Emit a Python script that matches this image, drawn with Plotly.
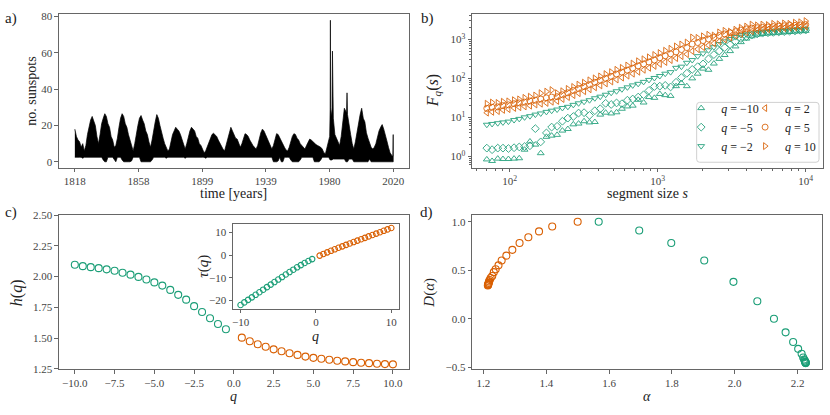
import plotly.graph_objects as go

TEAL = "#1b9e77"
ORANGE = "#d95f02"
FONT = "Liberation Serif, Times New Roman, DejaVu Serif, serif"
W, H = 830, 415

# ---------------- panel a: sunspot band (upper / lower envelope) ----------------
years_hi = list(range(1818, 1980)) + [1979.7, 1980.0, 1980.15, 1980.3, 1980.8, 1981.2, 1981.45, 1981.7,
                                      1982, 1983, 1984, 1985, 1986, 1987, 1988, 1989,
                                      1990.4, 1990.7, 1991.0] + list(range(1992, 2020)) + [2019.8, 2020]
spots_hi = [18, 14,
            12, 11, 8, 10, 6, 9, 15, 19, 23, 25,
            22, 20, 14, 10, 15, 21, 24, 26.5, 25, 21,
            19, 14, 12, 8, 9, 13, 19, 24, 26.5, 25,
            21, 19, 15, 12, 9, 6, 10, 16, 20, 24,
            25.5, 23, 21, 17, 15, 11, 8, 12, 18, 22,
            26, 24, 20, 16, 13, 10, 8, 6, 7, 11,
            15, 17, 19, 18, 17, 15, 12, 9, 7, 10,
            14, 17, 19, 18, 17, 14, 13, 10, 9, 7,
            5, 6, 8, 11, 13, 15, 15.7, 15, 14, 12,
            10, 8, 7, 6, 9, 13, 16, 19, 17, 15,
            13, 12.5, 10, 8, 10, 13, 15.5, 15, 14, 12,
            10, 9, 8, 7, 9, 13, 16, 18, 17, 15,
            13, 10, 8, 7, 9, 13, 15.5, 15, 13, 11,
            9, 8, 6.5, 6, 8, 11, 14, 15.5, 15, 13,
            12, 10, 9, 8, 7, 9, 11, 12.5, 12, 11,
            10, 9.5, 9, 8.5, 8, 7, 5, 4.5, 8, 12,
            14, 29, 78, 30, 25, 29, 61, 27,
            24, 15, 13, 11, 9, 14, 22, 29.5,
            27, 38, 26,
            19, 15, 10, 7, 11, 16, 22, 26, 29.5, 24,
            22, 16, 13, 10, 8, 7, 8, 10, 14, 17,
            19, 20.5, 18, 14, 11.5, 8, 5, 3.6,
            3, 15]
years_lo = list(range(1818, 2021))
spots_lo = [2.5, 2.5, 2.5, 2.5, 2.5, 2.0, 2.5, 2.5, 2.5, 2.5, 2.5, 2.5,
            2.5, 2.5, 2.5, 2.5, 2.5, 2.5, 1.0, 0.0, 0.0, 2.5,
            2.5, 2.5, 2.5, 1.0, 0.0, 2.5, 2.5, 2.5, 1.0, 0.0,
            0.0, 0.0, 0.0, 0.0, 0.5, 2.5, 2.5, 2.5, 2.5, 2.5,
            0.0, 0.0, 0.0, 0.0, 0.0, 0.0, 0.0, 1.0, 2.5, 2.5,
            2.5, 2.5, 2.5, 2.5, 2.5, 2.5, 2.0, 2.5, 2.5, 2.5,
            2.5, 2.5, 2.5, 2.5, 2.5, 2.5, 2.5, 2.5, 2.0, 2.5,
            2.5, 2.5, 2.5, 2.5, 2.5, 2.5, 2.5, 2.5, 2.5, 2.5,
            2.5, 2.0, 2.5, 2.5, 2.5, 2.5, 2.5, 2.5, 2.5, 2.5,
            2.5, 2.5, 2.5, 2.5, 2.5, 2.5, 2.5, 2.5, 2.5, 2.5,
            2.5, 2.5, 2.5, 2.5, 2.5, 2.5, 2.5, 2.5, 2.5, 2.5,
            2.5, 2.5, 2.5, 2.5, 2.5, 2.5, 2.5, 2.5, 2.5, 2.5,
            2.5, 2.5, 2.5, 2.5, 0.0, 0.0, 0.0, 0.5, 2.5, 0.0,
            0.0, 2.5, 2.5, 2.5, 2.5, 1.0, 0.0, 0.0, 0.0, 0.0,
            0.0, 1.0, 2.5, 2.5, 2.5, 2.5, 2.5, 2.5, 2.5, 2.5,
            0.0, 0.0, 0.0, 0.0, 1.0, 2.5, 2.5, 2.5, 2.5, 2.5,
            1.0, 1.0, 1.5, 1.5, 1.5, 1.5, 1.5, 1.5, 1.5, 1.5,
            0.0, 0.0, 1.5, 1.5, 1.5, 0.0, 0.0, 0.0, 0.0, 0.0,
            0.0, 0.0, 0.0, 0.0, 0.0, 1.5, 0.0, 0.0, 0.0, 0.0,
            0.0, 0.0, 0.0, 0.0, 0.0, 0.0, 0.0, 0.0, 0.0, 0.0, 0.0]
year_tickvals = [1818, 1858.4, 1898.8, 1939.2, 1979.6, 2020]
year_ticktext = ["1818", "1858", "1899", "1939", "1980", "2020"]

# ---------------- panel b: fluctuation functions ----------------
seg_sizes = [70, 76, 83, 90, 98, 107, 116, 126, 137,
             149, 162, 177, 192, 209, 227, 247, 269, 292, 318,
             346, 376, 409, 445, 485, 527, 573, 624, 678, 738,
             803, 873, 950, 1033, 1124, 1222, 1330, 1446, 1573, 1711,
             1862, 2025, 2203, 2396, 2606, 2835, 3084, 3355, 3649, 3970,
             4318, 4697, 5110, 5558, 6046, 6577, 7154, 7782, 8466, 9209,
             10000]
logF_qm10 = [-0.08, -0.12, -0.06, -0.07, -0.07, -0.06, -0.05, 0.17, 0.38, 0.30,
             0.08, 0.50, 0.53, 0.55, 0.66, 0.70, 0.82, 0.84, 0.90, 0.87,
             0.88, 1.07, 1.12, 1.10, 1.13, 1.22, 1.28, 1.30, 1.45, 1.38,
             1.52, 1.50, 1.60, 1.57, 1.55, 1.80, 1.88, 1.80, 2.00, 2.12,
             2.25, 2.22, 2.38, 2.50, 2.60, 2.70, 2.82, 2.93, 3.02, 3.08,
             3.12, 3.14, 3.15, 3.16, 3.17, 3.18, 3.19, 3.20, 3.21, 3.22]
logF_qm5 = [0.21, 0.17, 0.21, 0.21, 0.20, 0.22, 0.24, 0.25, 0.27, 0.71,
            0.37, 0.60, 0.75, 0.77, 0.90, 0.98, 1.02, 1.11, 1.12, 1.05,
            1.17, 1.22, 1.36, 1.33, 1.37, 1.35, 1.44, 1.47, 1.52, 1.58,
            1.69, 1.79, 1.80, 1.82, 1.78, 1.90, 2.02, 2.13, 2.23, 2.30,
            2.37, 2.50, 2.61, 2.70, 2.79, 2.87, 2.94, 3.02, 3.07, 3.11,
            3.14, 3.16, 3.17, 3.18, 3.19, 3.20, 3.21, 3.22, 3.23, 3.24]
logF_qm2 = [0.81, 0.83, 0.85, 0.87, 0.89, 0.93, 0.96, 1.00, 1.03, 1.07,
            1.10, 1.14, 1.17, 1.20, 1.24, 1.27, 1.32, 1.36, 1.40, 1.44,
            1.49, 1.53, 1.58, 1.63, 1.67, 1.72, 1.77, 1.82, 1.86, 1.91,
            1.96, 2.01, 2.06, 2.12, 2.16, 2.27, 2.30, 2.40, 2.47, 2.57,
            2.64, 2.72, 2.80, 2.88, 2.95, 3.01, 3.06, 3.11, 3.13, 3.15,
            3.17, 3.18, 3.19, 3.20, 3.21, 3.22, 3.23, 3.24, 3.25, 3.26]
logF_q2 = [1.12, 1.14, 1.16, 1.19, 1.21, 1.24, 1.26, 1.28, 1.30, 1.33,
           1.35, 1.37, 1.40, 1.42, 1.47, 1.52, 1.57, 1.62, 1.67, 1.72,
           1.77, 1.82, 1.87, 1.92, 1.97, 2.02, 2.07, 2.12, 2.17, 2.22,
           2.27, 2.32, 2.37, 2.42, 2.47, 2.52, 2.57, 2.62, 2.70, 2.75,
           2.80, 2.85, 2.90, 2.95, 3.00, 3.05, 3.10, 3.14, 3.18, 3.21,
           3.23, 3.25, 3.26, 3.27, 3.28, 3.29, 3.30, 3.31, 3.32, 3.33]
logF_q5 = [1.23, 1.26, 1.27, 1.30, 1.32, 1.35, 1.37, 1.39, 1.42, 1.44,
           1.47, 1.50, 1.52, 1.53, 1.58, 1.63, 1.69, 1.74, 1.79, 1.84,
           1.90, 1.95, 2.00, 2.05, 2.11, 2.16, 2.21, 2.26, 2.32, 2.37,
           2.42, 2.47, 2.53, 2.58, 2.63, 2.68, 2.74, 2.79, 2.88, 2.92,
           2.97, 3.01, 3.05, 3.10, 3.14, 3.17, 3.20, 3.24, 3.27, 3.29,
           3.30, 3.31, 3.32, 3.33, 3.34, 3.35, 3.36, 3.36, 3.37, 3.38]
logF_q10 = [1.35, 1.38, 1.37, 1.40, 1.41, 1.44, 1.46, 1.50, 1.53, 1.56,
            1.62, 1.66, 1.70, 1.62, 1.67, 1.73, 1.78, 1.84, 1.89, 1.95,
            2.00, 2.05, 2.11, 2.16, 2.22, 2.27, 2.33, 2.38, 2.44, 2.49,
            2.54, 2.60, 2.65, 2.71, 2.76, 2.82, 2.87, 2.92, 3.05, 3.04,
            3.08, 3.12, 3.10, 3.18, 3.22, 3.20, 3.25, 3.30, 3.33, 3.38,
            3.36, 3.38, 3.37, 3.40, 3.39, 3.41, 3.40, 3.43, 3.44, 3.47]

# ---------------- panel c: h(q) and inset tau(q) ----------------
q_neg = [-10, -9.5, -9, -8.5, -8, -7.5, -7, -6.5, -6, -5.5,
         -5, -4.5, -4, -3.5, -3, -2.5, -2, -1.5, -1, -0.5]
q_pos = [0.5, 1, 1.5, 2, 2.5, 3, 3.5, 4, 4.5, 5,
         5.5, 6, 6.5, 7, 7.5, 8, 8.5, 9, 9.5, 10]
h_neg = [2.096, 2.085, 2.077, 2.069, 2.059, 2.048, 2.032, 2.016, 1.998, 1.977,
         1.953, 1.927, 1.892, 1.852, 1.813, 1.760, 1.712, 1.662, 1.615, 1.572]
h_pos = [1.504, 1.475, 1.451, 1.430, 1.409, 1.393, 1.377, 1.364, 1.350, 1.340,
         1.332, 1.324, 1.316, 1.311, 1.305, 1.300, 1.297, 1.292, 1.289, 1.287]
tau_neg = [-21.96, -20.81, -19.69, -18.59, -17.47, -16.36, -15.22, -14.10, -12.99, -11.87,
           -10.77, -9.67, -8.57, -7.48, -6.44, -5.40, -4.42, -3.49, -2.62, -1.79]
tau_pos = [-0.25, 0.48, 1.18, 1.86, 2.52, 3.18, 3.82, 4.46, 5.08, 5.70,
           6.33, 6.94, 7.55, 8.18, 8.79, 9.40, 10.02, 10.63, 11.25, 11.87]

# ---------------- panel d: singularity spectrum ----------------
alpha_pos = [1.500, 1.419, 1.377, 1.343, 1.315, 1.292, 1.273, 1.258, 1.248, 1.239,
             1.233, 1.228, 1.223, 1.220, 1.218, 1.217, 1.216, 1.215, 1.215, 1.214]
D_pos = [1.00, 0.95, 0.90, 0.84, 0.78, 0.71, 0.65, 0.60, 0.55, 0.51,
         0.48, 0.44, 0.42, 0.40, 0.385, 0.37, 0.36, 0.355, 0.348, 0.343]
alpha_neg = [1.567, 1.696, 1.798, 1.903, 1.996, 2.072, 2.125, 2.162, 2.186, 2.202,
             2.213, 2.218, 2.221, 2.223, 2.224, 2.225, 2.225, 2.226, 2.226, 2.226]
D_neg = [1.00, 0.91, 0.78, 0.60, 0.38, 0.18, 0.00, -0.14, -0.24, -0.31,
         -0.36, -0.40, -0.42, -0.43, -0.44, -0.445, -0.45, -0.452, -0.455, -0.457]


def PX(p):
    return p / W


def PY(p):
    return 1 - p / H


fig = go.Figure()

# panel a
fig.add_trace(go.Scatter(x=years_hi + years_lo[::-1], y=spots_hi + spots_lo[::-1],
                         mode="lines", fill="toself", fillcolor="black",
                         line=dict(color="black", width=0.7),
                         xaxis="x", yaxis="y", showlegend=False, hoverinfo="skip"))

# panel b
series_b = [
    (logF_qm10, "triangle-up-open", TEAL, "<i>q</i> = −10", "legend"),
    (logF_qm5, "diamond-open", TEAL, "<i>q</i> = −5", "legend"),
    (logF_qm2, "triangle-down-open", TEAL, "<i>q</i> = −2", "legend"),
    (logF_q2, "triangle-left-open", ORANGE, "<i>q</i> = 2", "legend2"),
    (logF_q5, "circle-open", ORANGE, "<i>q</i> = 5", "legend2"),
    (logF_q10, "triangle-right-open", ORANGE, "<i>q</i> = 10", "legend2"),
]
for vals, sym, col, name, leg in series_b:
    fig.add_trace(go.Scatter(x=seg_sizes, y=[10 ** v for v in vals], mode="markers",
                             marker=dict(symbol=sym, size=6, color=col, line=dict(width=1, color=col)),
                             opacity=0.85, name=name, legend=leg, xaxis="x2", yaxis="y2"))


def circ(col, size):
    return dict(symbol="circle-open", size=size, color=col, line=dict(width=1.1, color=col))


# panel c
fig.add_trace(go.Scatter(x=q_neg, y=h_neg, mode="markers", marker=circ(TEAL, 7),
                         xaxis="x3", yaxis="y3", showlegend=False))
fig.add_trace(go.Scatter(x=q_pos, y=h_pos, mode="markers", marker=circ(ORANGE, 7),
                         xaxis="x3", yaxis="y3", showlegend=False))
# inset
fig.add_trace(go.Scatter(x=q_neg, y=tau_neg, mode="markers", marker=circ(TEAL, 5.5),
                         xaxis="x5", yaxis="y5", showlegend=False))
fig.add_trace(go.Scatter(x=q_pos, y=tau_pos, mode="markers", marker=circ(ORANGE, 5.5),
                         xaxis="x5", yaxis="y5", showlegend=False))
# panel d
fig.add_trace(go.Scatter(x=alpha_pos, y=D_pos, mode="markers", marker=circ(ORANGE, 7),
                         xaxis="x4", yaxis="y4", showlegend=False))
fig.add_trace(go.Scatter(x=alpha_neg, y=D_neg, mode="markers", marker=circ(TEAL, 7),
                         xaxis="x4", yaxis="y4", showlegend=False))

AX = dict(showline=True, linecolor="#666", linewidth=1, mirror=True, ticks="outside",
          ticklen=3.5, tickwidth=0.8, tickcolor="#666", showgrid=False, zeroline=False,
          tickfont=dict(family=FONT, size=11, color="#444"))


def ax(**kw):
    d = dict(AX)
    d.update(kw)
    return d


xa_dom = [PX(58), PX(408.3)]
xb_dom = [PX(471.7), PX(823.3)]
xd_dom = [PX(471.7), PX(821.7)]
ytop_dom = [PY(166), PY(8.3)]
ybot_dom = [PY(373.3), PY(214.3)]

minor_x = [60, 70, 80, 90, 200, 300, 400, 500, 600, 700, 800, 900,
           2000, 3000, 4000, 5000, 6000, 7000, 8000, 9000]
minor_y = [0.6, 0.7, 0.8, 0.9, 2, 3, 4, 5, 6, 7, 8, 9, 20, 30, 40, 50, 60, 70, 80, 90,
           200, 300, 400, 500, 600, 700, 800, 900, 2000, 3000, 4000]

LEGFONT = dict(family=FONT, size=12, color="#222")
fig.update_layout(
    width=W, height=H, margin=dict(l=0, r=0, t=0, b=0),
    paper_bgcolor="white", plot_bgcolor="white",
    font=dict(family=FONT, color="#222"),
    xaxis=ax(domain=xa_dom, anchor="y", range=[1807.9, 2029.9],
             tickvals=year_tickvals, ticktext=year_ticktext),
    yaxis=ax(domain=ytop_dom, anchor="x", range=[-3.2, 81.4], tickvals=[0, 20, 40, 60, 80]),
    xaxis2=ax(domain=xb_dom, anchor="y2", type="log", range=[1.746, 4.119],
              tickvals=[100, 1000, 10000], ticktext=["10<sup>2</sup>", "10<sup>3</sup>", "10<sup>4</sup>"],
              minor=dict(tickvals=minor_x, ticks="outside", ticklen=2, tickcolor="#666", tickwidth=0.6)),
    yaxis2=ax(domain=ytop_dom, anchor="x2", type="log", range=[-0.29, 3.65],
              tickvals=[1, 10, 100, 1000],
              ticktext=["10<sup>0</sup>", "10<sup>1</sup>", "10<sup>2</sup>", "10<sup>3</sup>"],
              minor=dict(tickvals=minor_y, ticks="outside", ticklen=2, tickcolor="#666", tickwidth=0.6)),
    xaxis3=ax(domain=xa_dom, anchor="y3", range=[-11, 11],
              tickvals=[-10, -7.5, -5, -2.5, 0, 2.5, 5, 7.5, 10], tickformat=".1f"),
    yaxis3=ax(domain=ybot_dom, anchor="x3", range=[1.246, 2.504],
              tickvals=[1.25, 1.5, 1.75, 2.0, 2.25, 2.5], tickformat=".2f"),
    xaxis4=ax(domain=xd_dom, anchor="y4", range=[1.164, 2.277],
              tickvals=[1.2, 1.4, 1.6, 1.8, 2.0, 2.2], tickformat=".1f"),
    yaxis4=ax(domain=ybot_dom, anchor="x4", range=[-0.522, 1.073],
              tickvals=[-0.5, 0, 0.5, 1.0], tickformat=".1f"),
    xaxis5=ax(domain=[PX(232.3), PX(398.3)], anchor="y5", range=[-11, 11], tickvals=[-10, 0, 10]),
    yaxis5=ax(domain=[PY(311), PY(224)], anchor="x5", range=[-23.6, 13.6], tickvals=[-20, -10, 0, 10]),
    legend=dict(x=PX(681), y=PY(90), xanchor="left", yanchor="top", bgcolor="rgba(0,0,0,0)",
                borderwidth=0, font=LEGFONT, tracegroupgap=0, itemwidth=30),
    legend2=dict(x=PX(745), y=PY(90), xanchor="left", yanchor="top", bgcolor="rgba(0,0,0,0)",
                 borderwidth=0, font=LEGFONT, tracegroupgap=0, itemwidth=30),
)

# rounded legend frame
x0, x1, y0, y1 = PX(696.5), PX(819), PY(160.5), PY(99)
rx, ry = 3 / W, 3 / H
path = (f"M {x0+rx},{y0} L {x1-rx},{y0} Q {x1},{y0} {x1},{y0+ry} L {x1},{y1-ry} "
        f"Q {x1},{y1} {x1-rx},{y1} L {x0+rx},{y1} Q {x0},{y1} {x0},{y1-ry} "
        f"L {x0},{y0+ry} Q {x0},{y0} {x0+rx},{y0} Z")
fig.add_shape(type="path", path=path, xref="paper", yref="paper",
              line=dict(color="#d0d0d0", width=1), fillcolor="rgba(255,255,255,0)")

anns = []


def label(text, x, y, size=14, angle=0, xanchor="center"):
    anns.append(dict(text=text, x=PX(x), y=PY(y), xref="paper", yref="paper", showarrow=False,
                     xanchor=xanchor, yanchor="middle", textangle=angle,
                     font=dict(family=FONT, size=size, color="#222")))


label("a)", 2, 13, 15, xanchor="left")
label("b)", 419, 13, 15, xanchor="left")
label("c)", 2, 212, 15, xanchor="left")
label("d)", 418, 212, 15, xanchor="left")
label("no. sunspots", 31, 87, 14, -90)
label("time [years]", 233, 193, 14)
label("<i>F</i><sub><i>q</i></sub>(<i>s</i>)", 433, 87, 16, -90)
label("segment size <i>s</i>", 647, 193, 14)
label("<i>h</i>(<i>q</i>)", 16, 294, 16, -90)
label("<i>q</i>", 233, 401, 14)
label("<i>τ</i>(<i>q</i>)", 203, 267, 15, -90)
label("<i>q</i>", 315, 339, 14)
label("<i>D</i>(<i>α</i>)", 429, 294, 15, -90)
label("<i>α</i>", 647, 401, 14)
fig.update_layout(annotations=anns)

fig.write_html("out.html", config={"displayModeBar": False},
               post_script="document.body.style.margin='0px';")
